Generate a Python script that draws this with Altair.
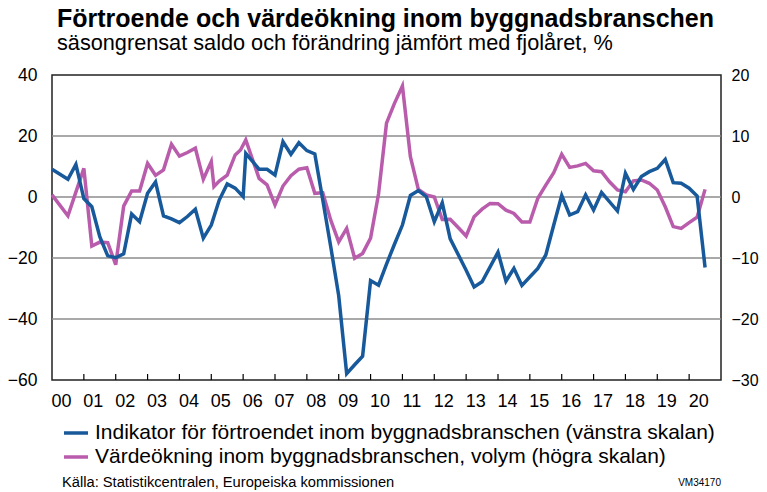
import altair as alt
import pandas as pd

FONT = "Liberation Sans"
TITLE = ["Förtroende och värdeökning inom byggnadsbranschen"]
SUBTITLE = ["säsongrensat saldo och förändring jämfört med fjolåret, %"]
SOURCE = ["Källa: Statistikcentralen, Europeiska kommissionen"]
CODE = ["VM34170"]
SERIES = ["Indikator för förtroendet inom byggnadsbranschen (vänstra skalan)",
          "Värdeökning inom byggnadsbranschen, volym (högra skalan)"]
COLORS = ["#17599a", "#b95cab"]

conf_dates = ["2000-01", "2000-07", "2000-10", "2001-01", "2001-04", "2001-07", "2001-10",
              "2002-01", "2002-04", "2002-07", "2002-10", "2003-01", "2003-04", "2003-07",
              "2003-10", "2004-01", "2004-04", "2004-07", "2004-10", "2005-01", "2005-04",
              "2005-07", "2005-10", "2006-01", "2006-02", "2006-07", "2006-10", "2007-01",
              "2007-04", "2007-07", "2007-10", "2008-01", "2008-04", "2008-07", "2008-10",
              "2009-01", "2009-04", "2009-07", "2009-10", "2010-01", "2010-04", "2010-07",
              "2010-10", "2011-01", "2011-04", "2011-07", "2011-10", "2012-01", "2012-04",
              "2012-07", "2013-01", "2013-04", "2013-07", "2014-01", "2014-04", "2014-07",
              "2014-10", "2015-04", "2015-07", "2015-10", "2016-01", "2016-04", "2016-07",
              "2016-10", "2017-01", "2017-04", "2017-10", "2018-01", "2018-04", "2018-07",
              "2018-10", "2019-01", "2019-04", "2019-07", "2019-10", "2020-01", "2020-04",
              "2020-07"]
conf_values = [9.1, 5.8, 10.7, -0.5, -3.2, -13.0, -19.3,
               -19.9, -18.6, -5.6, -8.1, 1.2, 4.9, -6.2,
               -7.2, -8.4, -6.4, -4.0, -13.5, -9.2, -1.0,
               4.3, 2.9, 0.1, 14.3, 9.1, 9.1, 7.2,
               18.1, 14.0, 17.8, 15.2, 14.1, -1.0, -16.3,
               -32.4, -57.9, -55.0, -52.2, -27.4, -28.9, -22.0,
               -15.5, -9.2, 0.5, 2.1, 0.1, -8.1, -1.9,
               -13.7, -24.0, -29.5, -27.8, -18.1, -27.6, -23.4,
               -29.0, -23.4, -19.0, -9.2, 0.5, -5.9, -4.8,
               0.7, -4.3, 1.5, -4.6, 7.8, 2.5, 6.7,
               8.3, 9.4, 12.3, 4.7, 4.5, 2.9, 0.3,
               -23.1]

growth_dates = ["2000-01", "2000-07", "2001-01", "2001-04", "2001-07", "2001-10", "2002-01",
                "2002-04", "2002-07", "2002-10", "2003-01", "2003-04", "2003-07", "2003-10",
                "2004-01", "2004-04", "2004-07", "2004-10", "2005-01", "2005-02", "2005-04",
                "2005-07", "2005-10", "2005-12", "2006-02", "2006-07", "2006-10", "2007-01",
                "2007-04", "2007-07", "2007-10", "2008-01", "2008-04", "2008-07", "2008-10",
                "2009-01", "2009-04", "2009-07", "2009-10", "2010-01", "2010-04", "2010-07",
                "2010-10", "2011-01", "2011-04", "2011-07", "2011-10", "2012-01", "2012-04",
                "2012-07", "2012-10", "2013-01", "2013-04", "2013-07", "2013-10", "2014-01",
                "2014-04", "2014-07", "2014-10", "2015-01", "2015-04", "2015-07", "2015-10",
                "2016-01", "2016-04", "2016-07", "2016-10", "2017-01", "2017-04", "2017-07",
                "2017-10", "2018-01", "2018-04", "2018-07", "2018-10", "2019-01", "2019-04",
                "2019-07", "2019-10", "2020-01", "2020-04", "2020-07"]
growth_values = [0.35, -3.1, 4.7, -8.05, -7.4, -7.5, -11.1,
                 -1.5, 1.0, 1.0, 5.5, 3.55, 4.45, 8.65,
                 6.7, 7.3, 8.0, 2.9, 5.8, 1.7, 2.6,
                 3.6, 6.9, 7.7, 9.35, 3.05, 2.0, -1.3,
                 1.8, 3.5, 4.55, 4.8, 0.6, 0.7, -3.8,
                 -7.35, -5.15, -10.05, -9.25, -6.75, 0.5, 12.1,
                 15.35, 18.2, 6.6, 1.25, 0.35, 0.0, -3.7,
                 -3.65, -5.0, -6.4, -3.25, -2.0, -1.05, -1.1,
                 -2.15, -2.7, -4.1, -4.1, -0.2, 1.95, 4.0,
                 7.0, 4.85, 5.1, 5.5, 4.3, 4.15, 2.5,
                 1.15, 0.85, 2.65, 2.8, 2.25, 1.15, -1.6,
                 -4.85, -5.15, -4.2, -3.3, 1.25]

left_ticks = [-60, -40, -20, 0, 20, 40]
right_ticks = [-30, -20, -10, 0, 10, 20]
grid_values = [-40, -20, 0, 20]
year_labels = list(range(2000, 2021))
year_bounds = list(range(2001, 2021))


def to_t(d):
    y, m = d.split("-")
    return int(y) + (int(m) - 1) / 12


conf_df = pd.DataFrame({"t": [to_t(d) for d in conf_dates], "v": conf_values, "series": SERIES[0]})
growth_df = pd.DataFrame({"t": [to_t(d) for d in growth_dates], "v": growth_values, "series": SERIES[1]})
grid_df = pd.DataFrame({"v": grid_values})
tick_df = pd.DataFrame({"t": year_bounds})

W, H = 669, 305

x_enc = alt.X(
    "t:Q",
    scale=alt.Scale(domain=[2000, 2021], nice=False, zero=False),
    axis=alt.Axis(values=year_labels, labelExpr="substring(toString(datum.value), 2, 4)",
                  labelOffset=9, tickSize=0, domain=False, grid=False, labelPadding=12,
                  labelFontSize=18, labelFont=FONT, labelColor="black", title=None,
                  labelOverlap=False, labelFlush=False),
)

color_enc = alt.Color(
    "series:N",
    scale=alt.Scale(domain=SERIES, range=COLORS),
    legend=alt.Legend(orient="none", legendX=10, legendY=344, symbolType="stroke",
                      symbolSize=576, symbolStrokeWidth=3.5, labelFontSize=21, labelFont=FONT,
                      labelColor="black", labelOffset=5, labelLimit=0, rowPadding=0, padding=0,
                      title=None, direction="vertical", symbolOpacity=1),
)

left_scale = alt.Scale(domain=[-60, 40], nice=False, zero=False)

grid = alt.Chart(grid_df).mark_rule(color="#8c8c8c", strokeWidth=1.5).encode(
    y=alt.Y("v:Q", scale=left_scale, axis=None)
)

growth_line = alt.Chart(growth_df).mark_line(strokeWidth=3.5).encode(
    x=x_enc,
    y=alt.Y("v:Q", scale=alt.Scale(domain=[-30, 20], nice=False, zero=False),
            axis=alt.Axis(orient="right", values=right_ticks, tickSize=0, domain=False, grid=False,
                          labelPadding=10, labelFontSize=16, labelFont=FONT, labelColor="black",
                          labelAlign="left", title=None)),
    color=color_enc,
    order="t:Q",
)

conf_line = alt.Chart(conf_df).mark_line(strokeWidth=3.5).encode(
    x=x_enc,
    y=alt.Y("v:Q", scale=left_scale,
            axis=alt.Axis(orient="left", values=left_ticks, tickSize=0, domain=False, grid=False,
                          labelPadding=15, labelFontSize=17.5, labelFont=FONT, labelColor="black",
                          title=None)),
    color=color_enc,
    order="t:Q",
)

ticks = alt.Chart(tick_df).mark_rule(color="black", strokeWidth=1.2).encode(
    x=x_enc, y=alt.value(H), y2=alt.value(H - 6)
)

title = alt.Chart(pd.DataFrame({"text": TITLE})).mark_text(
    align="left", baseline="alphabetic", fontSize=25, fontWeight="bold", font=FONT, color="black"
).encode(x=alt.value(5), y=alt.value(-48.5), text="text:N")

subtitle = alt.Chart(pd.DataFrame({"text": SUBTITLE})).mark_text(
    align="left", baseline="alphabetic", fontSize=21.7, font=FONT, color="black"
).encode(x=alt.value(5), y=alt.value(-25.5), text="text:N")

source = alt.Chart(pd.DataFrame({"text": SOURCE})).mark_text(
    align="left", baseline="middle", fontSize=14.7, font=FONT, color="black"
).encode(x=alt.value(10), y=alt.value(408), text="text:N")

code = alt.Chart(pd.DataFrame({"text": CODE})).mark_text(
    align="right", baseline="middle", fontSize=10, font=FONT, color="black"
).encode(x=alt.value(669), y=alt.value(408), text="text:N")

chart = alt.layer(
    grid, growth_line, conf_line, ticks, title, subtitle, source, code
).resolve_scale(y="independent").properties(
    width=W, height=H,
    autosize=alt.AutoSizeParams(type="none"),
    padding={"left": 44, "top": 67, "right": 38, "bottom": 110},
).configure_view(stroke="#222222", strokeWidth=1.5)

chart.save("out.html", embed_options={"renderer": "svg", "actions": False})
